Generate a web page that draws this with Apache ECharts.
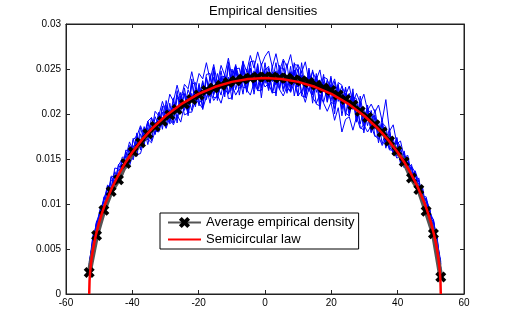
<!DOCTYPE html>
<html>
<head>
<meta charset="utf-8">
<script src="https://cdn.jsdelivr.net/npm/echarts@6/dist/echarts.min.js"></script>
<style>
  html, body { margin: 0; padding: 0; background: #fff; }
  #chart { width: 512px; height: 331px; }
</style>
</head>
<body>
<div id="chart"></div>
<script>
// tick labels
const xTickLabels = ['-60', '-40', '-20', '0', '20', '40', '60'];
const yTickLabels = ['0', '0.005', '0.01', '0.015', '0.02', '0.025', '0.03'];

// bin centres of the single runs (blue)
const xFine = [-53.00,-51.90,-50.79,-49.69,-48.58,-47.48,-46.38,-45.27,-44.17,-43.06,-41.96,-40.85,-39.75,-38.65,-37.54,-36.44,-35.33,-34.23,-33.13,-32.02,-30.92,-29.81,-28.71,-27.60,-26.50,-25.40,-24.29,-23.19,-22.08,-20.98,-19.88,-18.77,-17.67,-16.56,-15.46,-14.35,-13.25,-12.15,-11.04,-9.94,-8.83,-7.73,-6.63,-5.52,-4.42,-3.31,-2.21,-1.10,0,1.10,2.21,3.31,4.42,5.52,6.63,7.73,8.83,9.94,11.04,12.15,13.25,14.35,15.46,16.56,17.67,18.77,19.88,20.98,22.08,23.19,24.29,25.40,26.50,27.60,28.71,29.81,30.92,32.02,33.13,34.23,35.33,36.44,37.54,38.65,39.75,40.85,41.96,43.06,44.17,45.27,46.38,47.48,48.58,49.69,50.79,51.90,53.00];

const run1 = [0.0034,0.0055,0.0081,0.0084,0.0108,0.0105,0.0130,0.0124,0.0144,0.0135,0.0154,0.0145,0.0173,0.0158,0.0185,0.0170,0.0191,0.0172,0.0197,0.0187,0.0209,0.0185,0.0212,0.0190,0.0226,0.0202,0.0229,0.0204,0.0239,0.0213,0.0234,0.0208,0.0241,0.0222,0.0252,0.0218,0.0242,0.0219,0.0254,0.0226,0.0253,0.0231,0.0259,0.0225,0.0251,0.0222,0.0248,0.0229,0.0257,0.0231,0.0254,0.0220,0.0250,0.0233,0.0256,0.0225,0.0247,0.0220,0.0257,0.0226,0.0245,0.0212,0.0245,0.0223,0.0244,0.0213,0.0232,0.0200,0.0232,0.0206,0.0230,0.0204,0.0228,0.0191,0.0213,0.0190,0.0210,0.0180,0.0196,0.0168,0.0190,0.0169,0.0184,0.0155,0.0170,0.0149,0.0157,0.0132,0.0140,0.0119,0.0127,0.0105,0.0104,0.0084,0.0081,0.0054,0.0033];
const run2 = [0.0026,0.0063,0.0073,0.0093,0.0093,0.0120,0.0117,0.0136,0.0126,0.0148,0.0145,0.0165,0.0154,0.0179,0.0160,0.0182,0.0171,0.0196,0.0184,0.0202,0.0183,0.0215,0.0194,0.0218,0.0190,0.0220,0.0223,0.0202,0.0236,0.0210,0.0229,0.0205,0.0240,0.0219,0.0248,0.0215,0.0240,0.0222,0.0258,0.0228,0.0252,0.0221,0.0248,0.0233,0.0258,0.0228,0.0254,0.0218,0.0249,0.0253,0.0224,0.0248,0.0227,0.0259,0.0229,0.0253,0.0220,0.0242,0.0241,0.0220,0.0251,0.0221,0.0242,0.0205,0.0236,0.0214,0.0240,0.0213,0.0233,0.0198,0.0221,0.0198,0.0224,0.0196,0.0214,0.0179,0.0205,0.0179,0.0199,0.0176,0.0195,0.0164,0.0178,0.0157,0.0173,0.0145,0.0143,0.0151,0.0127,0.0134,0.0113,0.0119,0.0095,0.0093,0.0069,0.0063,0.0027];
const run3 = [0.0036,0.0058,0.0079,0.0087,0.0105,0.0107,0.0131,0.0130,0.0129,0.0152,0.0152,0.0169,0.0159,0.0175,0.0187,0.0177,0.0192,0.0180,0.0203,0.0198,0.0214,0.0201,0.0222,0.0214,0.0232,0.0216,0.0233,0.0228,0.0247,0.0228,0.0245,0.0239,0.0257,0.0238,0.0255,0.0234,0.0254,0.0243,0.0262,0.0240,0.0255,0.0232,0.0253,0.0237,0.0251,0.0231,0.0250,0.0236,0.0247,0.0228,0.0245,0.0232,0.0248,0.0225,0.0241,0.0228,0.0249,0.0230,0.0243,0.0218,0.0237,0.0222,0.0241,0.0215,0.0229,0.0218,0.0233,0.0206,0.0225,0.0205,0.0223,0.0206,0.0221,0.0198,0.0206,0.0187,0.0202,0.0182,0.0191,0.0177,0.0189,0.0164,0.0176,0.0160,0.0169,0.0146,0.0153,0.0135,0.0141,0.0120,0.0123,0.0106,0.0106,0.0086,0.0080,0.0054,0.0035];
const run4 = [0.0027,0.0052,0.0077,0.0085,0.0092,0.0108,0.0110,0.0127,0.0126,0.0130,0.0147,0.0142,0.0157,0.0155,0.0156,0.0171,0.0172,0.0168,0.0181,0.0180,0.0193,0.0184,0.0196,0.0188,0.0199,0.0191,0.0210,0.0202,0.0202,0.0216,0.0212,0.0206,0.0219,0.0226,0.0215,0.0221,0.0212,0.0228,0.0222,0.0233,0.0221,0.0229,0.0237,0.0227,0.0221,0.0235,0.0226,0.0240,0.0230,0.0234,0.0223,0.0237,0.0227,0.0220,0.0231,0.0224,0.0235,0.0220,0.0226,0.0213,0.0229,0.0218,0.0212,0.0222,0.0212,0.0203,0.0213,0.0193,0.0207,0.0180,0.0194,0.0197,0.0182,0.0197,0.0184,0.0188,0.0180,0.0187,0.0175,0.0176,0.0165,0.0173,0.0160,0.0160,0.0151,0.0153,0.0141,0.0138,0.0126,0.0127,0.0113,0.0106,0.0098,0.0083,0.0073,0.0053,0.0029];
const run5 = [0.0032,0.0065,0.0074,0.0095,0.0103,0.0121,0.0118,0.0140,0.0139,0.0137,0.0160,0.0158,0.0152,0.0174,0.0168,0.0186,0.0173,0.0190,0.0177,0.0196,0.0188,0.0208,0.0190,0.0211,0.0201,0.0224,0.0204,0.0219,0.0204,0.0229,0.0219,0.0237,0.0216,0.0234,0.0221,0.0245,0.0228,0.0244,0.0223,0.0243,0.0253,0.0240,0.0258,0.0247,0.0265,0.0251,0.0269,0.0254,0.0264,0.0270,0.0252,0.0267,0.0248,0.0261,0.0252,0.0266,0.0243,0.0255,0.0246,0.0258,0.0236,0.0247,0.0238,0.0249,0.0225,0.0238,0.0228,0.0239,0.0220,0.0231,0.0221,0.0231,0.0212,0.0223,0.0212,0.0222,0.0204,0.0211,0.0202,0.0210,0.0192,0.0216,0.0181,0.0188,0.0167,0.0170,0.0152,0.0154,0.0133,0.0137,0.0124,0.0108,0.0108,0.0091,0.0082,0.0059,0.0036];
const run6 = [0.0029,0.0061,0.0071,0.0091,0.0095,0.0117,0.0112,0.0132,0.0129,0.0149,0.0139,0.0160,0.0149,0.0169,0.0162,0.0184,0.0166,0.0186,0.0178,0.0199,0.0190,0.0203,0.0191,0.0215,0.0195,0.0213,0.0207,0.0227,0.0216,0.0227,0.0209,0.0235,0.0222,0.0241,0.0222,0.0232,0.0221,0.0243,0.0231,0.0250,0.0227,0.0243,0.0222,0.0250,0.0237,0.0248,0.0227,0.0256,0.0234,0.0251,0.0236,0.0257,0.0229,0.0245,0.0223,0.0247,0.0234,0.0250,0.0223,0.0239,0.0225,0.0249,0.0224,0.0238,0.0213,0.0229,0.0214,0.0236,0.0214,0.0224,0.0198,0.0223,0.0205,0.0213,0.0189,0.0205,0.0187,0.0204,0.0183,0.0192,0.0167,0.0180,0.0161,0.0173,0.0153,0.0160,0.0140,0.0147,0.0129,0.0136,0.0116,0.0117,0.0093,0.0094,0.0072,0.0062,0.0028];
const run7 = [0.0031,0.0059,0.0072,0.0086,0.0106,0.0117,0.0115,0.0123,0.0143,0.0150,0.0142,0.0148,0.0171,0.0176,0.0162,0.0167,0.0192,0.0196,0.0180,0.0184,0.0207,0.0210,0.0189,0.0193,0.0217,0.0220,0.0199,0.0201,0.0233,0.0235,0.0213,0.0215,0.0244,0.0245,0.0218,0.0219,0.0241,0.0242,0.0217,0.0218,0.0250,0.0251,0.0229,0.0230,0.0258,0.0259,0.0226,0.0226,0.0250,0.0250,0.0224,0.0224,0.0251,0.0251,0.0227,0.0227,0.0255,0.0254,0.0220,0.0219,0.0242,0.0240,0.0211,0.0209,0.0241,0.0239,0.0213,0.0211,0.0235,0.0232,0.0201,0.0198,0.0219,0.0217,0.0185,0.0182,0.0205,0.0201,0.0176,0.0172,0.0190,0.0186,0.0163,0.0158,0.0170,0.0164,0.0143,0.0136,0.0142,0.0135,0.0115,0.0106,0.0105,0.0094,0.0071,0.0054,0.0033];
const run8 = [0.0033,0.0056,0.0080,0.0092,0.0102,0.0103,0.0127,0.0122,0.0138,0.0138,0.0158,0.0149,0.0165,0.0153,0.0178,0.0166,0.0185,0.0170,0.0191,0.0181,0.0202,0.0187,0.0205,0.0198,0.0221,0.0206,0.0222,0.0198,0.0223,0.0208,0.0232,0.0218,0.0230,0.0212,0.0241,0.0225,0.0248,0.0225,0.0241,0.0216,0.0247,0.0235,0.0250,0.0224,0.0244,0.0232,0.0256,0.0230,0.0243,0.0226,0.0247,0.0235,0.0254,0.0228,0.0242,0.0231,0.0257,0.0230,0.0248,0.0225,0.0249,0.0228,0.0242,0.0211,0.0233,0.0221,0.0242,0.0214,0.0230,0.0213,0.0228,0.0201,0.0216,0.0191,0.0220,0.0195,0.0207,0.0184,0.0205,0.0181,0.0186,0.0162,0.0181,0.0162,0.0174,0.0148,0.0159,0.0139,0.0144,0.0122,0.0129,0.0103,0.0105,0.0087,0.0083,0.0055,0.0034];

// average empirical density (black crosses)
const xAvg = [-53.00,-50.79,-48.58,-46.38,-44.17,-41.96,-39.75,-37.54,-35.33,-33.13,-30.92,-28.71,-26.50,-24.29,-22.08,-19.88,-17.67,-15.46,-13.25,-11.04,-8.83,-6.63,-4.42,-2.21,0,2.21,4.42,6.63,8.83,11.04,13.25,15.46,17.67,19.88,22.08,24.29,26.50,28.71,30.92,33.13,35.33,37.54,39.75,41.96,44.17,46.38,48.58,50.79,53.00];
const avgY = [0.0024,0.0065,0.0093,0.0114,0.0127,0.0145,0.0158,0.0168,0.0178,0.0186,0.0192,0.0199,0.0205,0.0211,0.0216,0.0221,0.0226,0.0229,0.0232,0.0235,0.0237,0.0239,0.0240,0.0241,0.0241,0.0241,0.0240,0.0240,0.0238,0.0237,0.0235,0.0232,0.0229,0.0226,0.0221,0.0216,0.0210,0.0203,0.0196,0.0188,0.0180,0.0170,0.0159,0.0147,0.0129,0.0116,0.0092,0.0067,0.0019];

// semicircular law (red)
const xLaw = [-53,-52.9,-52.7,-52.4,-52,-51.5,-51,-50,-49,-48,-46,-44,-42,-40,-37,-34,-30,-25,-20,-15,-10,-5,0,5,10,15,20,25,30,34,37,40,42,44,46,48,49,50,51,51.5,52,52.4,52.7,52.9,53];
const lawY = [0,0.00147,0.00255,0.0036,0.00464,0.00567,0.00653,0.00796,0.00915,0.01018,0.01192,0.01338,0.01464,0.01575,0.01718,0.01841,0.01978,0.02116,0.02223,0.02302,0.02357,0.02389,0.0240,0.02389,0.02357,0.02302,0.02223,0.02116,0.01978,0.01841,0.01718,0.01575,0.01464,0.01338,0.01192,0.01018,0.00915,0.00796,0.00653,0.00567,0.00464,0.0036,0.00255,0.00147,0];

const runs = [run1, run2, run3, run4, run5, run6, run7, run8];

const FONT = '"Liberation Sans", Arial, Helvetica, sans-serif';
const AXIS_COLOR = '#222';
// bold cross, like a thick MATLAB 'x' marker
const crossPath = 'path://M0,3L3,0L6,3L9,0L12,3L9,6L12,9L9,12L6,9L3,12L0,9L3,6Z';

const chart = echarts.init(document.getElementById('chart'));

const pairs = (xs, ys) => xs.map((x, i) => [x, ys[i]]);

const series = runs.map((r, i) => ({
  name: 'run' + (i + 1),
  type: 'line',
  data: pairs(xFine, r),
  symbol: 'none',
  lineStyle: { color: '#0000ff', width: 1 },
  silent: true,
  z: 1
}));

series.push({
  name: 'Average empirical density',
  type: 'line',
  data: pairs(xAvg, avgY),
  symbol: crossPath,
  symbolSize: 11,
  showSymbol: true,
  showAllSymbol: true,
  itemStyle: { color: '#000' },
  lineStyle: { color: '#555', width: 5 },
  z: 3
});

series.push({
  name: 'Semicircular law',
  type: 'line',
  data: pairs(xLaw, lawY),
  symbol: 'none',
  itemStyle: { color: '#ff0000' },
  lineStyle: { color: '#ff0000', width: 2.5 },
  z: 5
});

const xCommon = {
  type: 'value', min: -60, max: 60, interval: 20,
  axisLine: { show: true, onZero: false, lineStyle: { color: AXIS_COLOR, width: 1 } },
  axisTick: { show: true, inside: true, length: 4, lineStyle: { color: AXIS_COLOR } },
  splitLine: { show: false }
};
const yCommon = {
  type: 'value', min: 0, max: 0.03, interval: 0.005,
  axisLine: { show: true, onZero: false, lineStyle: { color: AXIS_COLOR, width: 1 } },
  axisTick: { show: true, inside: true, length: 4, lineStyle: { color: AXIS_COLOR } },
  splitLine: { show: false }
};

const option = {
  animation: false,
  backgroundColor: '#fff',
  title: {
    text: 'Empirical densities',
    left: 209, top: 5, padding: 0,
    textStyle: { fontSize: 13, fontWeight: 'normal', color: '#000', fontFamily: FONT }
  },
  grid: {
    left: 66, right: 48, top: 24, bottom: 37,
    show: true, borderColor: AXIS_COLOR, borderWidth: 1, backgroundColor: 'transparent'
  },
  legend: {
    data: [
      { name: 'Average empirical density' },
      { name: 'Semicircular law', itemStyle: { opacity: 0 } }
    ],
    orient: 'vertical',
    left: 160, top: 213,
    padding: [3, 4, 3, 7],
    itemGap: 4, itemWidth: 33, itemHeight: 14,
    backgroundColor: '#fff', borderColor: '#000', borderWidth: 1, borderRadius: 0,
    textStyle: { fontSize: 13, color: '#000', fontFamily: FONT },
    z: 10
  },
  xAxis: [
    Object.assign({}, xCommon, {
      position: 'bottom',
      axisLabel: {
        margin: 4, fontSize: 10, color: '#000', fontFamily: FONT,
        formatter: v => xTickLabels[Math.round((v + 60) / 20)]
      }
    }),
    Object.assign({}, xCommon, { position: 'top', axisLabel: { show: false } })
  ],
  yAxis: [
    Object.assign({}, yCommon, {
      position: 'left',
      axisLabel: {
        margin: 5, fontSize: 10, color: '#000', fontFamily: FONT,
        formatter: v => yTickLabels[Math.round(v / 0.005)]
      }
    }),
    Object.assign({}, yCommon, { position: 'right', axisLabel: { show: false } })
  ],
  series: series
};

chart.setOption(option);
</script>
</body>
</html>
